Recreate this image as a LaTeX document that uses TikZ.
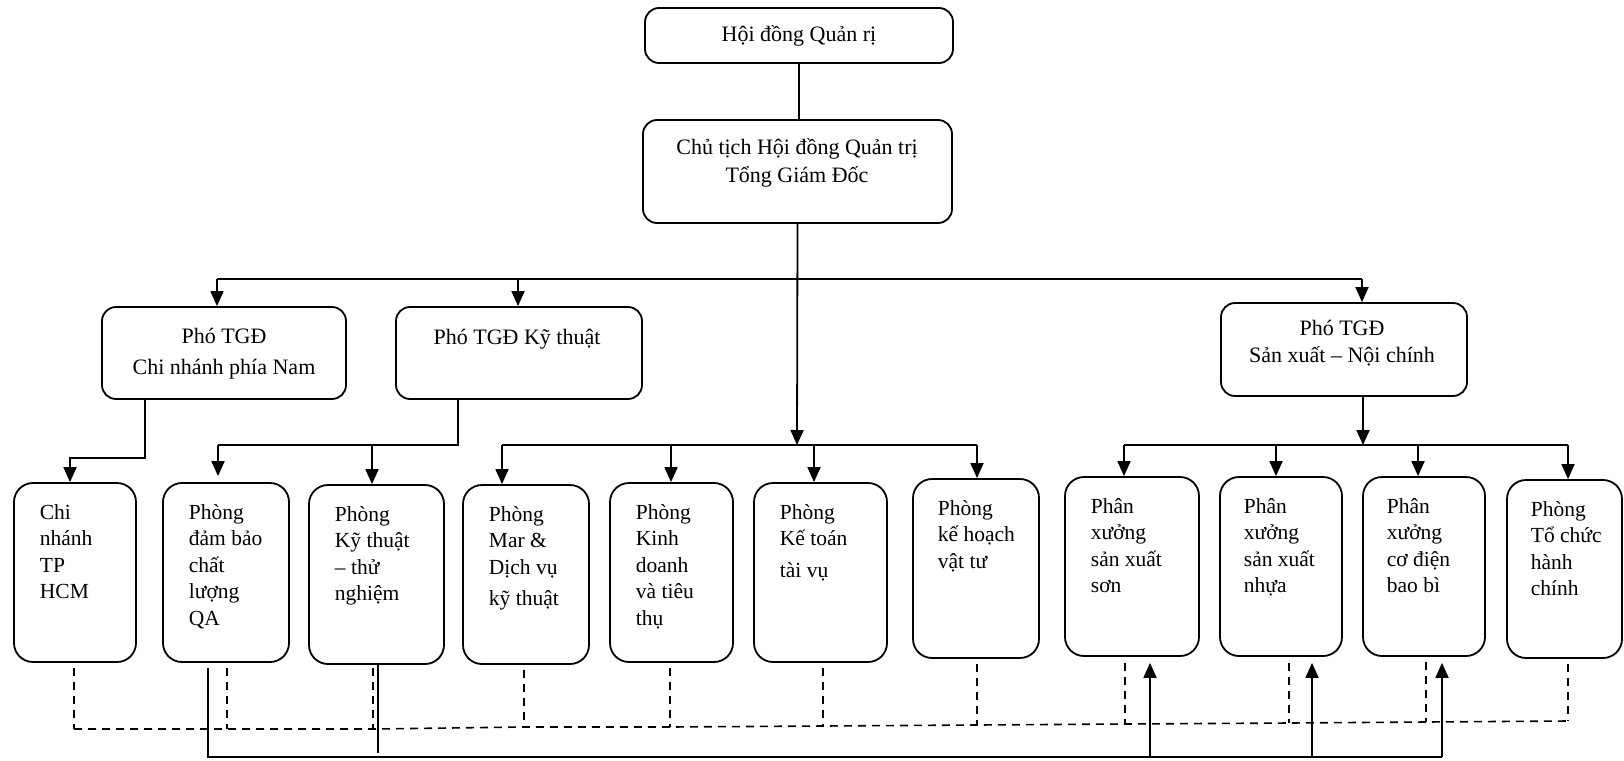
\documentclass[tikz,border=0pt]{standalone}
\usepackage{fontspec}
\setmainfont{Liberation Serif}
\usetikzlibrary{arrows.meta}
\begin{document}
\begin{tikzpicture}[x=1pt,y=-1pt,
  line width=1.8pt,
  tbox/.style={draw, rounded corners=14pt, line width=1.8pt, inner sep=0pt},
  ubox/.style={draw, rounded corners=19pt, line width=1.8pt, inner sep=0pt},
  lbl/.style={font=\fontsize{22}{28}\selectfont, inner sep=0pt, align=center},
  % multi-line node: the base anchor sits on the last line's baseline
  ltxt/.style={font=\fontsize{21.5}{26.5}\selectfont, inner sep=0pt, align=left, anchor=base west},
  arr/.style={-{Triangle[width=13pt,length=15pt]}},
  dsh/.style={line width=1.6pt, dash pattern=on 8pt off 6pt},
]
\useasboundingbox (0,0) rectangle (1624,760);

% ---- board and general director ----
\node[tbox, lbl, minimum width=308pt, minimum height=55pt] (hdqt) at (799,35.5) {\raisebox{-2pt}{Hội đồng Quản rị}};
\node[tbox, minimum width=309pt, minimum height=103pt] (ceo) at (797.5,171.5) {};
\node[lbl] (ceot) at (797,163) {Chủ tịch Hội đồng Quản trị\\Tổng Giám Đốc};

% ---- deputy general directors ----
\node[tbox, minimum width=244pt, minimum height=92pt] (pa) at (224,353) {};
\node[lbl, font=\fontsize{22}{31}\selectfont] (pat) at (224,354) {Phó TGĐ\\Chi nhánh phía Nam};
\node[tbox, minimum width=246pt, minimum height=92pt] (pb) at (519,353) {};
\node[lbl] (pbt) at (517,339) {Phó TGĐ Kỹ thuật};
\node[tbox, minimum width=246pt, minimum height=93pt] (pc) at (1344,349.5) {};
\node[lbl, font=\fontsize{22}{27}\selectfont] (pct) at (1342,343.5) {Phó TGĐ\\Sản xuất – Nội chính};

% ---- departments and workshops ----
\node[ubox, minimum width=122pt, minimum height=179pt] (b1) at (75,572.5) {};
\node[ubox, minimum width=126pt, minimum height=179pt] (b2) at (226,572.5) {};
\node[ubox, minimum width=135pt, minimum height=179pt] (b3) at (376.5,574.5) {};
\node[ubox, minimum width=126pt, minimum height=179pt] (b4) at (526,574.5) {};
\node[ubox, minimum width=123pt, minimum height=179pt] (b5) at (671.5,572.5) {};
\node[ubox, minimum width=133pt, minimum height=179pt] (b6) at (820.5,572.5) {};
\node[ubox, minimum width=126pt, minimum height=179pt] (b7) at (976,568.5) {};
\node[ubox, minimum width=134pt, minimum height=179pt] (b8) at (1132,566.5) {};
\node[ubox, minimum width=122pt, minimum height=179pt] (b9) at (1281,566.5) {};
\node[ubox, minimum width=122pt, minimum height=179pt] (b10) at (1424,566.5) {};
\node[ubox, minimum width=115pt, minimum height=178pt] (b11) at (1564.5,569) {};

\node[ltxt] (t1) at (39,598.5) {Chi\\nhánh\\TP\\HCM};
\node[ltxt] (t2) at (188,625) {Phòng\\đảm bảo\\chất\\lượng\\QA};
\node[ltxt] (t3) at (334,600.5) {Phòng\\Kỹ thuật\\– thử\\nghiệm};
\node[ltxt] (t4) at (488,605.5) {Phòng\\Mar \&\\Dịch vụ\\[5pt]kỹ thuật};
\node[ltxt] (t5) at (635,625) {Phòng\\Kinh\\doanh\\và tiêu\\thụ};
\node[ltxt] (t6) at (779,577) {Phòng\\Kế toán\\[5pt]tài vụ};
\node[ltxt] (t7) at (937,568) {Phòng\\kế hoạch\\vật tư};
\node[ltxt] (t8) at (1090,592.5) {Phân\\xưởng\\sản xuất\\sơn};
\node[ltxt] (t9) at (1243,592.5) {Phân\\xưởng\\sản xuất\\nhựa};
\node[ltxt] (t10) at (1386,592.5) {Phân\\xưởng\\cơ điện\\bao bì};
\node[ltxt] (t11) at (1530,595.5) {Phòng\\Tổ chức\\hành\\chính};

% ---- top level connectors ----
\draw (hdqt.south) -- (hdqt.south |- ceo.north);
\coordinate (tbL) at (217,279);
\coordinate (tbB) at (518,279);
\coordinate (tbR) at (1362,279);
\draw (tbL) -- (tbR);
\draw[arr] (tbL) -- (tbL |- pa.north);
\draw[arr] (tbB) -- (tbB |- pb.north);
\draw[arr] (tbR) -- (tbR |- pc.north);

% central trunk to the departments under the general director
\coordinate (mb) at (797,445);
\coordinate (mbL) at (502,445);
\coordinate (mb5) at (671,445);
\coordinate (mb6) at (814,445);
\coordinate (mbR) at (977,445);
\draw[arr] (ceo.south) -- (mb);
\draw (mbL) -- (mbR);
\draw[arr] (mbL) -- (mbL |- b4.north);
\draw[arr] (mb5) -- (mb5 |- b5.north);
\draw[arr] (mb6) -- (mb6 |- b6.north);
\draw[arr] (mbR) -- (mbR |- b7.north);

% southern branch
\coordinate (aD) at (145,399);
\coordinate (aJ) at (70,458);
\draw[arr] (aD) |- (aJ) -- (aJ |- b1.north);

% technical deputy
\coordinate (bD) at (458,399);
\coordinate (bJ) at (218,445);
\coordinate (bJ3) at (372,445);
\draw (bD) |- (bJ);
\draw[arr, shorten >=6pt] (bJ) -- (bJ |- b2.north);
\draw[arr] (bJ3) -- (bJ3 |- b3.north);

% production deputy
\coordinate (rb) at (1363,445);
\coordinate (rbL) at (1124,445);
\coordinate (rb9) at (1276,445);
\coordinate (rb10) at (1418,445);
\coordinate (rbR) at (1568,445);
\draw[arr] (pc.south -| rb) -- (rb);
\draw (rbL) -- (rbR);
\draw[arr] (rbL) -- (rbL |- b8.north);
\draw[arr] (rb9) -- (rb9 |- b9.north);
\draw[arr] (rb10) -- (rb10 |- b10.north);
\draw[arr] (rbR) -- (rbR |- b11.north);

% ---- quality and testing links to the workshops ----
\coordinate (sl) at (208,757);
\coordinate (s3) at (378,757);
\coordinate (s8) at (1150,757);
\coordinate (s9) at (1312,757);
\coordinate (sr) at (1442,757);
\draw[shorten <=5pt] (sl |- b2.south) -- (sl) -- (sr);
\draw[shorten >=4pt] (s3 |- b3.south) -- (s3);
\draw[arr, shorten >=6pt] (s8) -- (s8 |- b8.south);
\draw[arr, shorten >=6pt] (s9) -- (s9 |- b9.south);
\draw[arr, shorten >=6pt] (sr) -- (sr |- b10.south);

% ---- dashed coordination line ----
\coordinate (d1) at (74,729);
\coordinate (d2) at (227,729);
\coordinate (d3) at (373,729);
\coordinate (d4) at (524,727);
\coordinate (d5) at (670,727);
\coordinate (d6) at (823,726);
\coordinate (d7) at (977,725);
\coordinate (d8) at (1125,724);
\coordinate (d9) at (1289,723);
\coordinate (d10) at (1426,722);
\coordinate (d11) at (1568,721);
\draw[dsh] (d1) -- (d2) -- (d3) -- (d4) -- (d5) -- (d6) -- (d7) -- (d8) -- (d9) -- (d10) -- (d11);
\draw[dsh, shorten <=5pt] (d1 |- b1.south) -- (d1);
\draw[dsh, shorten <=5pt] (d2 |- b2.south) -- (d2);
\draw[dsh, shorten <=3pt] (d3 |- b3.south) -- (d3);
\draw[dsh, shorten <=5pt] (d4 |- b4.south) -- (d4);
\draw[dsh, shorten <=5pt] (d5 |- b5.south) -- (d5);
\draw[dsh, shorten <=5pt] (d6 |- b6.south) -- (d6);
\draw[dsh, shorten <=5pt] (d7 |- b7.south) -- (d7);
\draw[dsh, shorten <=6pt] (d8 |- b8.south) -- (d8);
\draw[dsh, shorten <=6pt] (d9 |- b9.south) -- (d9);
\draw[dsh, shorten <=5pt] (d10 |- b10.south) -- (d10);
\draw[dsh, shorten <=5pt] (d11 |- b11.south) -- (d11);
\end{tikzpicture}
\end{document}
